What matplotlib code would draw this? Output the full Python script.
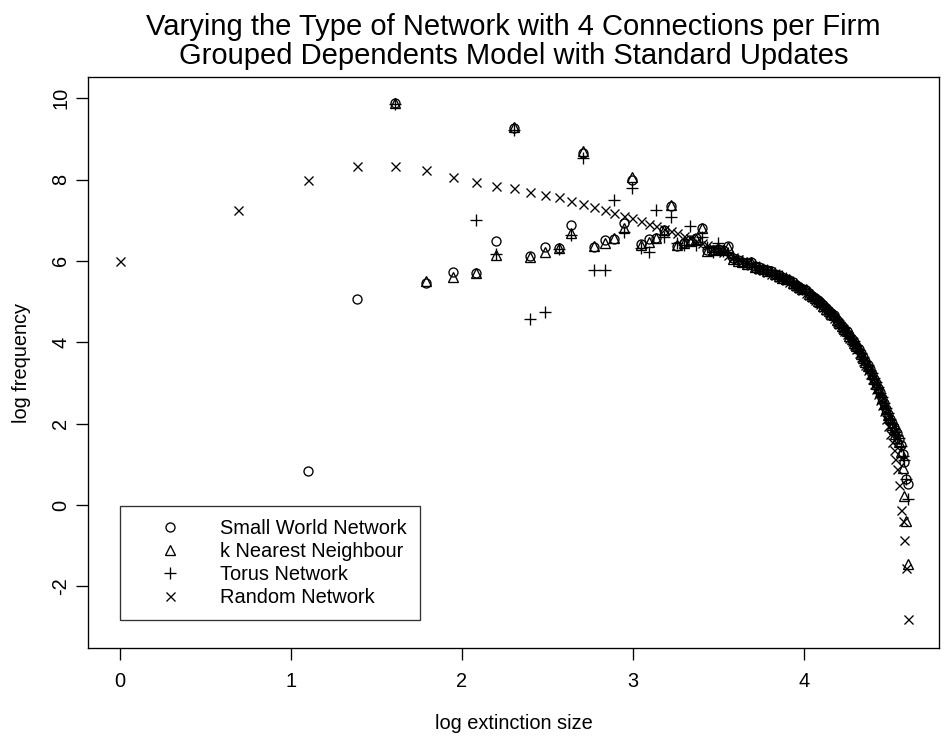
import numpy as np
import matplotlib.pyplot as plt

plt.rcParams['font.family'] = ['Liberation Sans', 'DejaVu Sans']

nan = np.nan

# extinction sizes 1..100
sizes = np.arange(1, 101)

small_world = [nan, nan, 0.83, 5.07, 9.87, 5.46, 5.74, 5.70, 6.50, 9.26,
               6.11, 6.34, 6.32, 6.89, 8.64, 6.33, 6.52, 6.54, 6.93, 7.99,
               6.41, 6.54, 6.56, 6.76, 7.34, 6.36, 6.45, 6.52, 6.56, 6.80,
               6.27, 6.28, 6.30, 6.27, 6.36, 6.06, 6.02, 5.98, 5.95, 5.97,
               5.88, 5.84, 5.80, 5.77, 5.75, 5.69, 5.65, 5.61, 5.56, 5.53,
               5.47, 5.42, 5.36, 5.31, 5.28, 5.21, 5.15, 5.09, 5.03, 4.99,
               4.91, 4.85, 4.78, 4.71, 4.66, 4.56, 4.48, 4.41, 4.33, 4.27,
               4.17, 4.09, 4.00, 3.91, 3.84, 3.73, 3.63, 3.53, 3.43, 3.35,
               3.22, 3.11, 3.00, 2.88, 2.78, 2.63, 2.50, 2.37, 2.24, 2.12,
               2.02, 1.93, 1.84, 1.76, 1.62, 1.48, 1.25, 1.05, 0.64, 0.51]

k_nearest = [nan, nan, nan, nan, 9.87, 5.50, 5.60, 5.70, 6.15, 9.28,
             6.10, 6.22, 6.32, 6.68, 8.70, 6.36, 6.44, 6.56, 6.81, 8.06,
             6.40, 6.46, 6.56, 6.76, 7.38, 6.38, 6.43, 6.50, 6.55, 6.82,
             6.25, 6.28, 6.30, 6.26, 6.34, 6.05, 6.00, 5.97, 5.93, 5.98,
             5.86, 5.83, 5.79, 5.75, 5.76, 5.68, 5.64, 5.59, 5.55, 5.55,
             5.46, 5.40, 5.35, 5.30, 5.30, 5.19, 5.14, 5.08, 5.02, 5.00,
             4.90, 4.83, 4.77, 4.70, 4.67, 4.55, 4.47, 4.39, 4.32, 4.28,
             4.16, 4.07, 3.99, 3.90, 3.85, 3.72, 3.62, 3.52, 3.42, 3.36,
             3.21, 3.10, 2.98, 2.87, 2.79, 2.62, 2.49, 2.35, 2.22, 2.14,
             1.98, 1.86, 1.75, 1.66, 1.55, 1.30, 0.90, 0.23, -0.38, -1.45]

torus = [nan, nan, nan, nan, 9.85, nan, nan, 7.01, 6.18, 9.22,
         4.58, 4.75, 6.30, 6.64, 8.52, 5.78, 5.78, 7.49, 6.72, 7.80,
         6.32, 6.23, 7.25, 6.59, 7.09, 6.44, 6.38, 6.86, 6.40, 6.60,
         6.35, 6.22, 6.44, 6.25, 6.20, 6.08, 6.03, 5.99, 5.96, 5.94,
         5.89, 5.85, 5.81, 5.78, 5.73, 5.70, 5.66, 5.62, 5.57, 5.51,
         5.48, 5.43, 5.37, 5.32, 5.26, 5.22, 5.16, 5.10, 5.04, 4.97,
         4.92, 4.86, 4.79, 4.72, 4.64, 4.57, 4.50, 4.42, 4.35, 4.25,
         4.18, 4.10, 4.02, 3.93, 3.82, 3.74, 3.65, 3.55, 3.45, 3.33,
         3.24, 3.13, 3.02, 2.90, 2.76, 2.65, 2.52, 2.39, 2.26, 2.11,
         2.00, 1.90, 1.80, 1.72, 1.65, 1.45, 1.20, 1.10, 0.65, 0.15]

random_net = [6.01, 7.25, 7.99, 8.33, 8.33, 8.24, 8.07, 7.95, 7.85, 7.78,
              7.70, 7.63, 7.56, 7.48, 7.40, 7.33, 7.25, 7.17, 7.11, 7.05,
              6.98, 6.91, 6.85, 6.79, 6.73, 6.68, 6.61, 6.56, 6.50, 6.44,
              6.38, 6.32, 6.26, 6.21, 6.15, 6.09, 6.04, 5.99, 5.94, 5.90,
              5.85, 5.81, 5.77, 5.73, 5.69, 5.65, 5.61, 5.57, 5.52, 5.47,
              5.43, 5.38, 5.33, 5.28, 5.22, 5.17, 5.11, 5.05, 4.99, 4.93,
              4.87, 4.80, 4.73, 4.66, 4.59, 4.51, 4.44, 4.36, 4.28, 4.20,
              4.11, 4.02, 3.93, 3.84, 3.74, 3.64, 3.54, 3.43, 3.32, 3.21,
              3.09, 2.97, 2.85, 2.72, 2.59, 2.45, 2.30, 2.12, 1.95, 1.75,
              1.55, 1.35, 1.12, 0.88, 0.50, -0.11, -0.38, -0.85, -1.55, -2.81]

labels = ['Small World Network', 'k Nearest Neighbour', 'Torus Network', 'Random Network']
title_lines = ['Varying the Type of Network with 4 Connections per Firm',
               'Grouped Dependents Model with Standard Updates']

x = np.log(sizes)

fig = plt.figure(figsize=(945 / 120, 738 / 120), dpi=120)
ax = fig.add_axes([88 / 945, 1 - 648.3 / 738, 851.4 / 945, 571.3 / 738])

ax.plot(x, small_world, linestyle='none', marker='o', ms=5.4, mfc='none', mec='black', mew=0.8, label=labels[0])
ax.plot(x, k_nearest, linestyle='none', marker='^', ms=5.8, mfc='none', mec='black', mew=0.8, label=labels[1])
ax.plot(x, torus, linestyle='none', marker='+', ms=7, mec='black', mew=0.8, label=labels[2])
ax.plot(x, random_net, linestyle='none', marker='x', ms=5.4, mec='black', mew=0.8, label=labels[3])

# R style limits: 4% padding
ax.set_xlim(-0.04 * np.log(100), 1.04 * np.log(100))
ax.set_ylim(-3 - 0.04 * 13, 10 + 0.04 * 13)
ax.set_xticks([0, 1, 2, 3, 4])
ax.set_yticks([-2, 0, 2, 4, 6, 8, 10])
ax.set_yticklabels(['-2', '0', '2', '4', '6', '8', '10'], rotation=90, va='center')
ax.tick_params(axis='both', direction='out', length=7.2, width=0.8, labelsize=12)
ax.tick_params(axis='x', pad=7)
ax.tick_params(axis='y', pad=3.5)
for s in ax.spines.values():
    s.set_linewidth(0.8)

ax.set_xlabel('log extinction size', fontsize=12, labelpad=14)
ax.set_ylabel('log frequency', fontsize=12, labelpad=12)
fig.text(513.5 / 945, 1 - 35 / 738, title_lines[0], ha='center', va='baseline', fontsize=17.5)
fig.text(513.5 / 945, 1 - 63.5 / 738, title_lines[1], ha='center', va='baseline', fontsize=17.5)

leg = ax.legend(loc='upper left', bbox_to_anchor=((120 - 88) / 851.4, (648.3 - 506) / 571.3),
                borderaxespad=0, fontsize=12, frameon=True, fancybox=False, edgecolor='black',
                borderpad=0.65, handlelength=3.7, handletextpad=0.65, labelspacing=0.2, numpoints=1)
leg.get_frame().set_linewidth(0.8)

fig.savefig('out.png', dpi=120)
